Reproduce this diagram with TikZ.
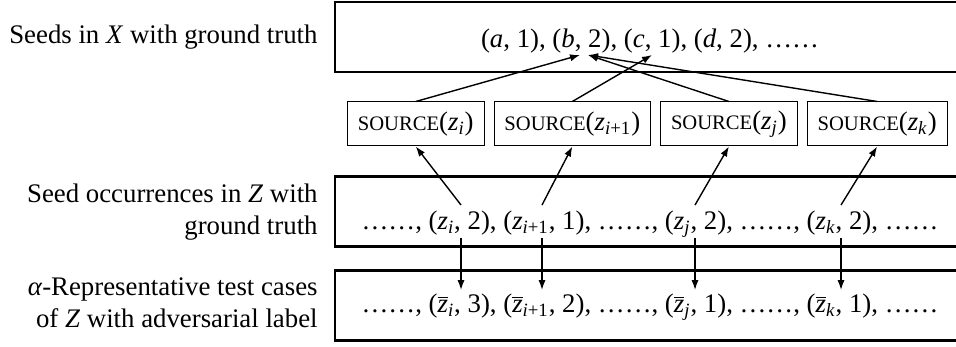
\documentclass[tikz,border=0pt]{standalone}
\usepackage{fontspec}
\setmainfont{Liberation Serif}
\usetikzlibrary{positioning,arrows.meta}

% z with a subscript, plain and barred
\newcommand{\zsub}[1]{\textit{z}\textsubscript{#1}}
\newcommand{\zbar}[1]{$\overline{\mbox{\textit{z}}}$\textsubscript{#1}}
% small capitals drawn by hand
\newcommand{\srcname}{{\fontsize{10.3}{12}\selectfont SOURCE}}

\tikzset{
  bigbox/.style={draw, line width=1.3pt, minimum width=315pt, minimum height=35pt, inner sep=0pt},
  srcbox/.style={draw, line width=0.5pt, minimum height=22pt, inner xsep=5.2pt, inner ysep=0pt},
  rowtext/.style={anchor=base, inner sep=0pt},
  sidelabel/.style={anchor=east, align=right, inner sep=0pt},
  link/.style={->, line width=0.7pt},
}

\begin{document}
\begin{tikzpicture}[x=0.5pt, y=-0.5pt, >={Latex[length=5pt,width=3.6pt]},
    font=\fontsize{13.4}{16}\selectfont]
  \useasboundingbox (0,0) rectangle (956,347);

  % the three rows
  \node[bigbox] (seedrow) at (650,37) {};
  \node[bigbox] (occrow) at (650,211.5) {};
  \node[bigbox] (advrow) at (650,305.5) {};

  \node[rowtext] (seedtext) at (650,48)
    {(\textit{a}, 1), (\textit{b}, 2), (\textit{c}, 1), (\textit{d}, 2), ……};
  \node[rowtext] (occtext) at (650,229)
    {……, (\zsub{\textit{i}}, 2), (\zsub{\textit{i}+1}, 1), ……, (\zsub{\textit{j}}, 2), ……, (\zsub{\textit{k}}, 2), ……};
  \node[rowtext] (advtext) at (650,312)
    {……, (\zbar{\textit{i}}, 3), (\zbar{\textit{i}+1}, 2), ……, (\zbar{\textit{j}}, 1), ……, (\zbar{\textit{k}}, 1), ……};

  \node[sidelabel] (seedlabel) at (318,37) {Seeds in \textit{X} with ground truth};
  \node[sidelabel] (occlabel) at (318,212) {Seed occurrences in \textit{Z} with\\ground truth};
  \node[sidelabel] (advlabel) at (318,303) {\textit{α}-Representative test cases\\of \textit{Z} with adversarial label};

  % source boxes
  \node[srcbox, anchor=west] (srci) at (347,124) {\srcname(\zsub{\textit{i}})};
  \node[srcbox, right=4.5pt of srci] (srcip) {\srcname(\zsub{\textit{i}+1})};
  \node[srcbox, right=4.5pt of srcip] (srcj) {\srcname(\zsub{\textit{j}})};
  \node[srcbox, right=4.5pt of srcj] (srck) {\srcname(\zsub{\textit{k}})};

  % arrow ends under the seeds
  \coordinate (bleft) at (580,55);
  \coordinate (bright) at (588,55);
  \coordinate (cmark) at (652,55);

  \draw[link] (srci.north) -- (bleft);
  \draw[link] (srcip.north) -- (cmark);
  \draw[link] (srcj.north) -- (bright);
  \draw[link] (srck.north) -- (bright);

  % occurrences: up to their source, down to the test case
  \foreach \n/\x in {i/461, ip/542, j/695, k/841} {
    \coordinate (up\n) at (\x,205);
    \coordinate (dn\n) at (\x,238);
    \coordinate (adv\n) at (\x,290);
  }
  \foreach \n in {i, ip, j, k} {
    \draw[link] (up\n) -- (src\n.south);
    \draw[link] (dn\n) -- (adv\n);
  }
\end{tikzpicture}
\end{document}
